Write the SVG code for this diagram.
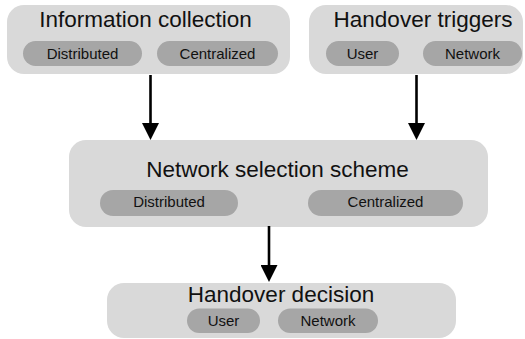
<svg xmlns="http://www.w3.org/2000/svg" width="525" height="339" viewBox="0 0 525 339">
<style>
.box{fill:#d9d9d9}
.pill{fill:#a6a6a6}
.title{font-family:"Liberation Sans",Arial,sans-serif;font-size:22.5px;fill:#111;text-anchor:middle}
.lbl{font-family:"Liberation Sans",Arial,sans-serif;font-size:15px;fill:#111;text-anchor:middle}
.conn{stroke:#000;stroke-width:2.6;fill:none}
</style>
<defs>
<marker id="ah" markerUnits="userSpaceOnUse" markerWidth="17" markerHeight="17" refX="0" refY="8.5" orient="auto">
<path d="M0,0 L17,8.5 L0,17 z" fill="#000"/>
</marker>
</defs>
<rect width="525" height="339" fill="#fff"/>
<g id="info">
<rect class="box" x="7" y="5" width="283" height="69" rx="17"/>
<text class="title" x="145.5" y="27.3">Information collection</text>
<rect class="pill" x="23" y="41" width="119" height="25" rx="12.5"/>
<text class="lbl" x="82.5" y="58.7">Distributed</text>
<rect class="pill" x="157" y="41" width="121" height="25" rx="12.5"/>
<text class="lbl" x="217.5" y="58.7">Centralized</text>
</g>
<g id="triggers">
<rect class="box" x="309" y="5" width="214" height="69" rx="17"/>
<text class="title" x="423" y="27.3">Handover triggers</text>
<rect class="pill" x="326" y="41" width="73" height="25" rx="12.5"/>
<text class="lbl" x="362.5" y="58.7">User</text>
<rect class="pill" x="423" y="41" width="99" height="25" rx="12.5"/>
<text class="lbl" x="472.5" y="58.7">Network</text>
</g>
<g id="selection">
<rect class="box" x="69" y="140" width="419" height="87" rx="17"/>
<text class="title" x="277.5" y="176.7">Network selection scheme</text>
<rect class="pill" x="100" y="190" width="138" height="26" rx="13"/>
<text class="lbl" x="169" y="207">Distributed</text>
<rect class="pill" x="308" y="190" width="155" height="26" rx="13"/>
<text class="lbl" x="385.5" y="207">Centralized</text>
</g>
<g id="decision">
<rect class="box" x="107" y="283" width="349" height="55" rx="17"/>
<text class="title" x="281" y="301.7">Handover decision</text>
<rect class="pill" x="187" y="308.5" width="73" height="24.5" rx="12.25"/>
<text class="lbl" x="223.5" y="325.5">User</text>
<rect class="pill" x="278" y="308.5" width="100" height="24.5" rx="12.25"/>
<text class="lbl" x="328" y="325.5">Network</text>
</g>
<g id="connectors">
<line class="conn" x1="150.5" y1="75" x2="150.5" y2="123" marker-end="url(#ah)"/>
<line class="conn" x1="416.5" y1="75" x2="416.5" y2="123" marker-end="url(#ah)"/>
<line class="conn" x1="269" y1="226" x2="269" y2="265" marker-end="url(#ah)"/>
</g>
</svg>
